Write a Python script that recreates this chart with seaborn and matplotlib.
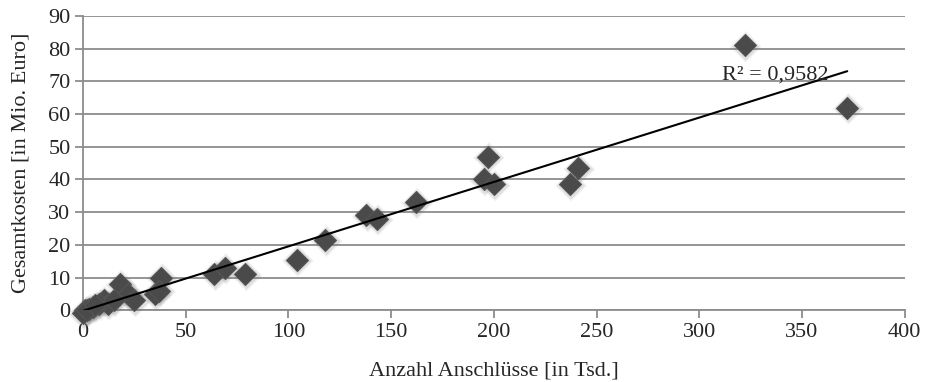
import numpy as np
import pandas as pd
import matplotlib
matplotlib.use("Agg")
import matplotlib.pyplot as plt
import seaborn as sns

anschluesse = [322, 372, 197, 195, 200, 237, 241, 162, 138, 143, 118, 104, 79, 64, 69,
               38, 35, 37, 18, 22, 25, 10, 12, 8, 5, 3, 1, 0, 2, 15, 6]
kosten = [81, 62, 47, 40, 38.5, 38.5, 43.5, 33, 29, 28, 21.5, 15.5, 11, 11, 13,
          10, 5, 6, 8, 5, 3, 3, 2, 2, 1, 0.5, 0, -1, 0, 3, 1.5]
r2_text = "R² = 0,9582"

df = pd.DataFrame({"x": anschluesse, "y": kosten})

sns.set_style("white")
plt.rcParams["font.family"] = ["Liberation Serif", "DejaVu Serif"]

fig = plt.figure(figsize=(9.27, 3.82), dpi=100)
ax = fig.add_axes([0.0895, 0.188, 0.8865, 0.770])

# soft shadow
for s_, a_ in [(260, 0.10), (200, 0.15)]:
    sns.scatterplot(data=df.assign(x=df["x"] + 0.6, y=df["y"] - 0.4), x="x", y="y",
                    marker="D", s=s_, color="#777777", edgecolor="none", alpha=a_,
                    ax=ax, clip_on=False, zorder=3, legend=False)
sns.scatterplot(data=df, x="x", y="y", marker="D", s=125, color="#4a4a4a",
                edgecolor="#555555", linewidth=0.8, ax=ax, clip_on=False, zorder=4,
                legend=False)

slope, inter = np.polyfit(df["x"], df["y"], 1)
xs = np.array([df["x"].min(), df["x"].max()])
ax.plot(xs, slope * xs + inter, color="black", lw=1.5, zorder=5)
ax.text(311, 70.5, r2_text, fontsize=16, va="baseline", ha="left", zorder=6)

ax.set_xlim(0, 400)
ax.set_ylim(0, 90)
ax.set_xticks(range(0, 401, 50))
ax.set_yticks(range(0, 91, 10))
ax.yaxis.grid(True, color="#8c8c8c", lw=1.3)
ax.xaxis.grid(False)
ax.set_axisbelow(True)
for s in ["top", "right"]:
    ax.spines[s].set_visible(False)
for s in ["left", "bottom"]:
    ax.spines[s].set_color("#8c8c8c")
    ax.spines[s].set_linewidth(1.3)
ax.tick_params(axis="both", which="both", direction="out", length=6, width=1.3,
               color="#8c8c8c", labelsize=16, pad=3, left=True, bottom=True)
ax.set_xlabel("Anzahl Anschlüsse [in Tsd.]", fontsize=16, labelpad=14)
ax.set_ylabel("Gesamtkosten [in Mio. Euro]", fontsize=16, labelpad=13)

fig.savefig("out.png", dpi=100)
